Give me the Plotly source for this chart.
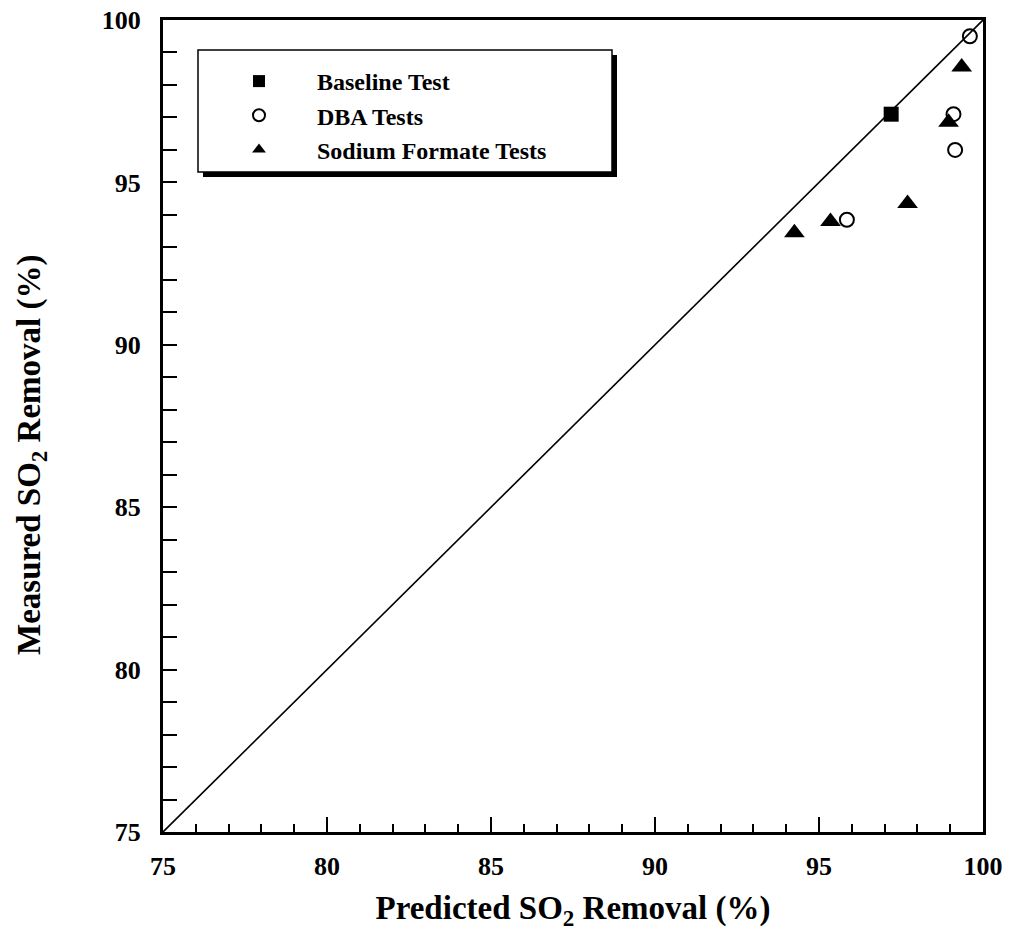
import plotly.graph_objects as go

# Data (Predicted, Measured SO2 removal, %)
baseline_pred = [97.2]
baseline_meas = [97.1]
dba_pred = [99.6, 99.1, 99.15, 95.85]
dba_meas = [99.5, 97.1, 96.0, 93.85]
formate_pred = [99.35, 98.95, 97.7, 95.35, 94.25]
formate_meas = [98.55, 96.85, 94.35, 93.8, 93.45]
line_x = [75, 100]
line_y = [75, 100]
tick_vals = [75, 80, 85, 90, 95, 100]

FONT = "Liberation Serif, Times New Roman, serif"

# body margin is removed in the page (post_script), so figure pixels = page pixels
L, T = 163, 20
PW, PH = 820, 812
W, H = 1016, 938


def px_x(p):
    return (p - L) / PW


def px_y(p):
    return (T + PH - p) / PH


fig = go.Figure()
fig.add_trace(go.Scatter(x=line_x, y=line_y, mode="lines",
                         line=dict(color="black", width=1.6), showlegend=False, hoverinfo="skip"))
fig.add_trace(go.Scatter(x=baseline_pred, y=baseline_meas, mode="markers", name="Baseline Test",
                         marker=dict(symbol="square", size=15, color="black", line=dict(color="black", width=0))))
fig.add_trace(go.Scatter(x=dba_pred, y=dba_meas, mode="markers", name="DBA Tests",
                         marker=dict(symbol="circle-open", size=14, color="black", line=dict(color="black", width=2))))
fig.add_trace(go.Scatter(x=formate_pred, y=formate_meas, mode="markers", name="Sodium Formate Tests",
                         marker=dict(symbol="triangle-up", size=18, color="black", line=dict(color="black", width=0))))

axis_common = dict(
    range=[75, 100], showgrid=False, zeroline=False, automargin=False,
    showline=True, linecolor="black", linewidth=3, mirror=True,
    ticks="inside", tickcolor="black", tickwidth=2,
    tickvals=tick_vals, ticktext=[str(v) for v in tick_vals],
    ticklabeloverflow="allow",
    tickfont=dict(family=FONT, size=26, color="black", weight="bold"),
)

fig.update_xaxes(**axis_common, ticklen=15, ticklabelstandoff=9,
                 minor=dict(ticks="inside", dtick=1, ticklen=8, tickwidth=2, tickcolor="black", showgrid=False),
                 title=dict(text="Predicted SO<sub>2</sub> Removal (%)",
                            font=dict(family=FONT, size=33, color="black", weight="bold"), standoff=16))
fig.update_yaxes(**axis_common, ticklen=14, ticklabelstandoff=14,
                 minor=dict(ticks="inside", dtick=1, ticklen=14, tickwidth=2, tickcolor="black", showgrid=False))

# y-axis title placed as an annotation to match the reference position
fig.add_annotation(text="Measured SO<sub>2</sub> Removal (%)", xref="paper", yref="paper",
                   x=px_x(31), y=px_y(455), xanchor="center", yanchor="middle",
                   textangle=-90, showarrow=False,
                   font=dict(family=FONT, size=33, color="black", weight="bold"))

# Legend shadow and box
fig.add_shape(type="rect", xref="paper", yref="paper",
              x0=px_x(203), x1=px_x(617), y0=px_y(177), y1=px_y(55),
              fillcolor="black", line=dict(width=0), layer="below")
fig.add_shape(type="rect", xref="paper", yref="paper",
              x0=px_x(198), x1=px_x(612), y0=px_y(172), y1=px_y(50),
              fillcolor="white", line=dict(color="black", width=1.5), layer="below")

fig.update_layout(
    width=W, height=H,
    margin=dict(l=L, r=W - L - PW, t=T, b=H - T - PH),
    paper_bgcolor="white", plot_bgcolor="white",
    font=dict(family=FONT, color="black"),
    showlegend=True,
    hovermode=False,
    legend=dict(x=px_x(201), y=px_y(59), xanchor="left", yanchor="top",
                bgcolor="rgba(0,0,0,0)", borderwidth=0,
                font=dict(family=FONT, size=24, color="black", weight="bold"),
                itemsizing="constant", itemwidth=106, tracegroupgap=0),
)

fig.write_html("out.html",
               config={"displayModeBar": False},
               post_script="document.body.style.margin='0';document.body.style.overflow='hidden';")
